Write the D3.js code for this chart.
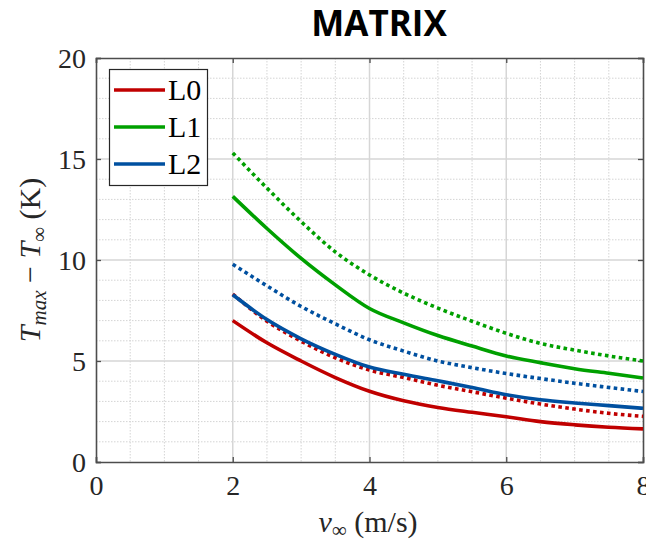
<!DOCTYPE html>
<html>
<head>
<meta charset="utf-8">
<script src="https://cdn.jsdelivr.net/npm/d3@7"></script>
<style>
  body { margin: 0; background: #fff; }
  svg { display: block; }
  .tick-label { font-family: "Liberation Serif", serif; font-size: 28px; fill: #262626; }
</style>
</head>
<body>
<svg id="chart" width="646" height="545"></svg>
<script>
const speeds = [2, 2.5, 3, 3.5, 4, 4.5, 5, 5.5, 6, 6.5, 7, 7.5, 8]
const l0Solid = [7.0, 5.9, 5.0, 4.18, 3.5, 3.03, 2.7, 2.46, 2.24, 2.0, 1.84, 1.72, 1.64]
const l0Dotted = [8.31, 6.97, 5.98, 5.16, 4.55, 4.18, 3.8, 3.48, 3.16, 2.87, 2.62, 2.41, 2.26]
const l1Solid = [13.15, 11.56, 10.08, 8.77, 7.6, 6.89, 6.26, 5.74, 5.25, 4.92, 4.62, 4.39, 4.16]
const l1Dotted = [15.3, 13.56, 11.9, 10.4, 9.26, 8.36, 7.62, 6.97, 6.37, 5.87, 5.54, 5.25, 5.0]
const l2Solid = [8.28, 7.05, 6.1, 5.33, 4.7, 4.34, 4.02, 3.69, 3.33, 3.08, 2.92, 2.79, 2.66]
const l2Dotted = [9.79, 8.72, 7.7, 6.84, 6.05, 5.49, 5.0, 4.67, 4.38, 4.13, 3.9, 3.69, 3.49]
const levels = ['L0', 'L1', 'L2']
const colors = ['#c00000', '#00a000', '#0050a0']
const xTicks = [0, 2, 4, 6, 8]
const yTicks = [0, 5, 10, 15, 20]

const svg = d3.select('#chart')
const plotLeft = 96, plotRight = 643, plotTop = 58, plotBottom = 462

const x = d3.scaleLinear().domain([0, 8]).range([plotLeft, plotRight])
const y = d3.scaleLinear().domain([0, 20]).range([plotBottom, plotTop])

// grid: minor dotted, major solid
const grid = svg.append('g')
grid.selectAll('.vminor').data(d3.range(0.5, 8, 0.5).filter(v => v % 2 !== 0))
  .enter().append('line')
  .attr('x1', d => x(d)).attr('x2', d => x(d))
  .attr('y1', plotTop).attr('y2', plotBottom)
  .attr('stroke', '#d4d4d4').attr('stroke-width', 1).attr('stroke-dasharray', '1.5,1.5')
grid.selectAll('.hminor').data(d3.range(1, 20, 1).filter(v => v % 5 !== 0))
  .enter().append('line')
  .attr('x1', plotLeft).attr('x2', plotRight)
  .attr('y1', d => y(d)).attr('y2', d => y(d))
  .attr('stroke', '#d4d4d4').attr('stroke-width', 1).attr('stroke-dasharray', '1.5,1.5')
grid.selectAll('.vmajor').data([2, 4, 6])
  .enter().append('line')
  .attr('x1', d => x(d)).attr('x2', d => x(d))
  .attr('y1', plotTop).attr('y2', plotBottom)
  .attr('stroke', '#d6d6d6').attr('stroke-width', 1.5)
grid.selectAll('.hmajor').data([5, 10, 15])
  .enter().append('line')
  .attr('x1', plotLeft).attr('x2', plotRight)
  .attr('y1', d => y(d)).attr('y2', d => y(d))
  .attr('stroke', '#d6d6d6').attr('stroke-width', 1.5)

// axes with inward ticks
const axisColor = '#4d4d4d'
const xAxis = svg.append('g').attr('transform', `translate(0,${plotBottom})`)
  .call(d3.axisBottom(x).tickValues(xTicks).tickSize(-5).tickPadding(11))
const xAxisTop = svg.append('g').attr('transform', `translate(0,${plotTop})`)
  .call(d3.axisTop(x).tickValues(xTicks).tickSize(-5).tickFormat(''))
const yAxis = svg.append('g').attr('transform', `translate(${plotLeft},0)`)
  .call(d3.axisLeft(y).tickValues(yTicks).tickSize(-5).tickPadding(10))
const yAxisRight = svg.append('g').attr('transform', `translate(${plotRight},0)`)
  .call(d3.axisRight(y).tickValues(yTicks).tickSize(-5).tickFormat(''))

;[xAxis, xAxisTop, yAxis, yAxisRight].forEach(g => {
  g.select('.domain').attr('stroke', axisColor).attr('stroke-width', 1.6)
  g.selectAll('.tick line').attr('stroke', axisColor).attr('stroke-width', 1.3)
  g.selectAll('.tick text').attr('class', 'tick-label').attr('font-size', null).attr('font-family', null)
})
xAxis.selectAll('.tick text').attr('dy', '0.78em')
yAxis.selectAll('.tick text').attr('dy', '0.34em')

// curves
const series = [
  { values: l0Solid, color: colors[0], dotted: false },
  { values: l0Dotted, color: colors[0], dotted: true },
  { values: l2Dotted, color: colors[2], dotted: true },
  { values: l2Solid, color: colors[2], dotted: false },
  { values: l1Dotted, color: colors[1], dotted: true },
  { values: l1Solid, color: colors[1], dotted: false }
]
const line = d3.line()
  .x(d => x(d[0]))
  .y(d => y(d[1]))
  .curve(d3.curveMonotoneX)

svg.append('g').selectAll('path').data(series)
  .enter().append('path')
  .attr('d', s => line(speeds.map((v, i) => [v, s.values[i]])))
  .attr('fill', 'none')
  .attr('stroke', s => s.color)
  .attr('stroke-width', 3.6)
  .attr('stroke-dasharray', s => s.dotted ? '3.6,3.4' : null)

// legend
const legend = svg.append('g')
legend.append('rect')
  .attr('x', 109.5).attr('y', 69.5).attr('width', 98).attr('height', 116)
  .attr('fill', '#fff').attr('stroke', '#262626').attr('stroke-width', 1.2)
const items = legend.selectAll('.item').data(levels)
  .enter().append('g')
  .attr('transform', (d, i) => `translate(0,${90 + i * 37})`)
items.append('line')
  .attr('x1', 114).attr('x2', 165).attr('y1', 0).attr('y2', 0)
  .attr('stroke', (d, i) => colors[i]).attr('stroke-width', 3.6)
items.append('text')
  .attr('x', 168).attr('y', 10)
  .attr('font-family', 'Liberation Serif, serif').attr('font-size', 30)
  .attr('fill', '#000')
  .text(d => d)

// title
svg.append('text')
  .attr('x', 379).attr('y', 36)
  .attr('text-anchor', 'middle')
  .attr('font-family', 'Open Sans, sans-serif').attr('font-weight', 700).attr('font-size', 35)
  .attr('fill', '#000')
  .text('MATRIX')

// x label
const xl = svg.append('text')
  .attr('x', 368).attr('y', 532)
  .attr('text-anchor', 'middle')
  .attr('font-family', 'Liberation Serif, serif').attr('font-size', 30)
  .attr('fill', '#262626')
xl.append('tspan').attr('font-style', 'italic').text('v')
xl.append('tspan').attr('font-size', 21).attr('dy', 5).text('∞')
xl.append('tspan').attr('dy', -5).text(' (m/s)')

// y label
const yl = svg.append('text')
  .attr('transform', 'translate(40,260) rotate(-90)')
  .attr('text-anchor', 'middle')
  .attr('font-family', 'Liberation Serif, serif').attr('font-size', 30)
  .attr('fill', '#262626')
yl.append('tspan').attr('font-style', 'italic').text('T')
yl.append('tspan').attr('font-style', 'italic').attr('font-size', 21).attr('dy', 6).text('max')
yl.append('tspan').attr('dy', -6).text(' − ')
yl.append('tspan').attr('font-style', 'italic').text('T')
yl.append('tspan').attr('font-size', 21).attr('dy', 6).text('∞')
yl.append('tspan').attr('dy', -6).text(' (K)')
</script>
</body>
</html>
